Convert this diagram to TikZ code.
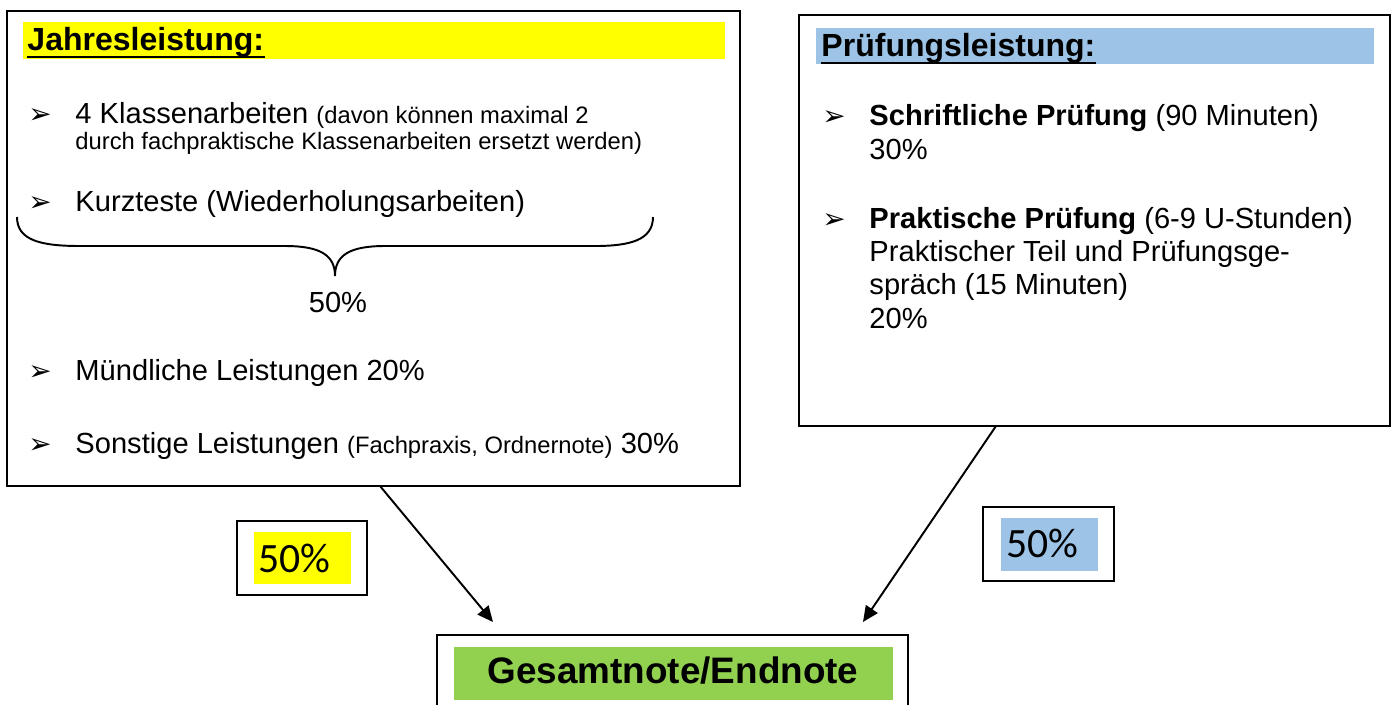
\documentclass[tikz,border=0pt]{standalone}
\usepackage{fontspec}
\setmainfont{Liberation Sans}
\newfontfamily\calib{Carlito}
\newfontfamily\dejavu{DejaVu Sans}
\usetikzlibrary{arrows.meta}
\definecolor{jahrgelb}{RGB}{255,255,0}
\definecolor{pruefblau}{RGB}{157,195,230}
\definecolor{endgruen}{RGB}{146,208,80}
\newcommand{\klein}{\fontsize{9.8}{12}\selectfont}
\begin{document}
\begin{tikzpicture}[x=0.0145cm,y=-0.0145cm,
box/.style={line width=0.8pt},
txt/.style={anchor=base west,inner sep=0pt,font=\fontsize{12}{14}\selectfont},
titel/.style={anchor=base west,inner sep=0pt,font=\fontsize{13.2}{16}\selectfont\bfseries},
pkt/.style={anchor=base west,inner sep=0pt,font=\dejavu\fontsize{11.5}{12}\selectfont},
proz/.style={anchor=base west,inner sep=0pt,font=\calib\fontsize{17.2}{20}\selectfont},
pfeil/.style={line width=0.8pt,-{Triangle[length=6.5pt,width=5.8pt]}}]
\useasboundingbox (0,0) rectangle (1392,704);
\fill[jahrgelb](23,22)rectangle(725,59);
\draw[box](7,11)rectangle(740,486);
\node[titel](jtitel) at (27,50){Jahresleistung:};
\draw[line width=1.2pt]([yshift=-2.9pt]jtitel.base west)--([yshift=-2.9pt]jtitel.base east);
\foreach \y in {123,211,380,453} \node[pkt](jp\y) at (28,\y){➢};
\node[txt](jk1) at (75,123){4 Klassenarbeiten {\klein (davon können maximal 2}};
\node[txt](jk2) at (75,149){\klein durch fachpraktische Klassenarbeiten ersetzt werden)};
\node[txt](jk3) at (75,211){Kurzteste (Wiederholungsarbeiten)};
\draw[line width=0.8pt](17,217)..controls(17,240)and(40,246)..(80,246)--(285,246)
  ..controls(320,246)and(335,255)..(335,276)..controls(335,255)and(350,246)..(385,246)
  --(595,246)..controls(630,246)and(653,240)..(653,217);
\node[txt,anchor=base](jsumme) at (338,312){50\%};
\node[txt](jm) at (75,380){Mündliche Leistungen 20\%};
\node[txt](js) at (75,453){Sonstige Leistungen {\klein (Fachpraxis, Ordnernote)} 30\%};
\fill[pruefblau](816,28)rectangle(1374,64);
\draw[box](799,15)rectangle(1390,426);
\node[titel](ptitel) at (821,56){Prüfungsleistung:};
\draw[line width=1.2pt]([yshift=-2.9pt]ptitel.base west)--([yshift=-2.9pt]ptitel.base east);
\foreach \y in {125,228} \node[pkt](pp\y) at (822,\y){➢};
\node[txt](ps1) at (869,125){\textbf{Schriftliche Prüfung} (90 Minuten)};
\node[txt](ps2) at (869,159){30\%};
\node[txt](pr1) at (869,228){\textbf{Praktische Prüfung} (6-9 U-Stunden)};
\node[txt](pr2) at (869,261){Praktischer Teil und Prüfungsge-};
\node[txt](pr3) at (869,294){spräch (15 Minuten)};
\node[txt](pr4) at (869,328){20\%};
\draw[box](237,521)rectangle(367,595);
\fill[jahrgelb](254,532)rectangle(351,584);
\node[proz](jproz) at (258,572){50\%};
\draw[box](983,507)rectangle(1114,581);
\fill[pruefblau](1001,518)rectangle(1098,571);
\node[proz](pproz) at (1006,557){50\%};
\draw[box](437,706)--(437,635)--(908,635)--(908,706);
\fill[endgruen](454,647)rectangle(893,700);
\node[anchor=base,inner sep=0pt,font=\fontsize{15.2}{18}\selectfont\bfseries](gesamt) at (673,683){Gesamtnote/Endnote};
\coordinate(jaus) at (380,486);
\coordinate(paus) at (996,426);
\coordinate(gein1) at (493,622);
\coordinate(gein2) at (863,622);
\draw[pfeil](jaus)--(gein1);
\draw[pfeil](paus)--(gein2);
\end{tikzpicture}
\end{document}
